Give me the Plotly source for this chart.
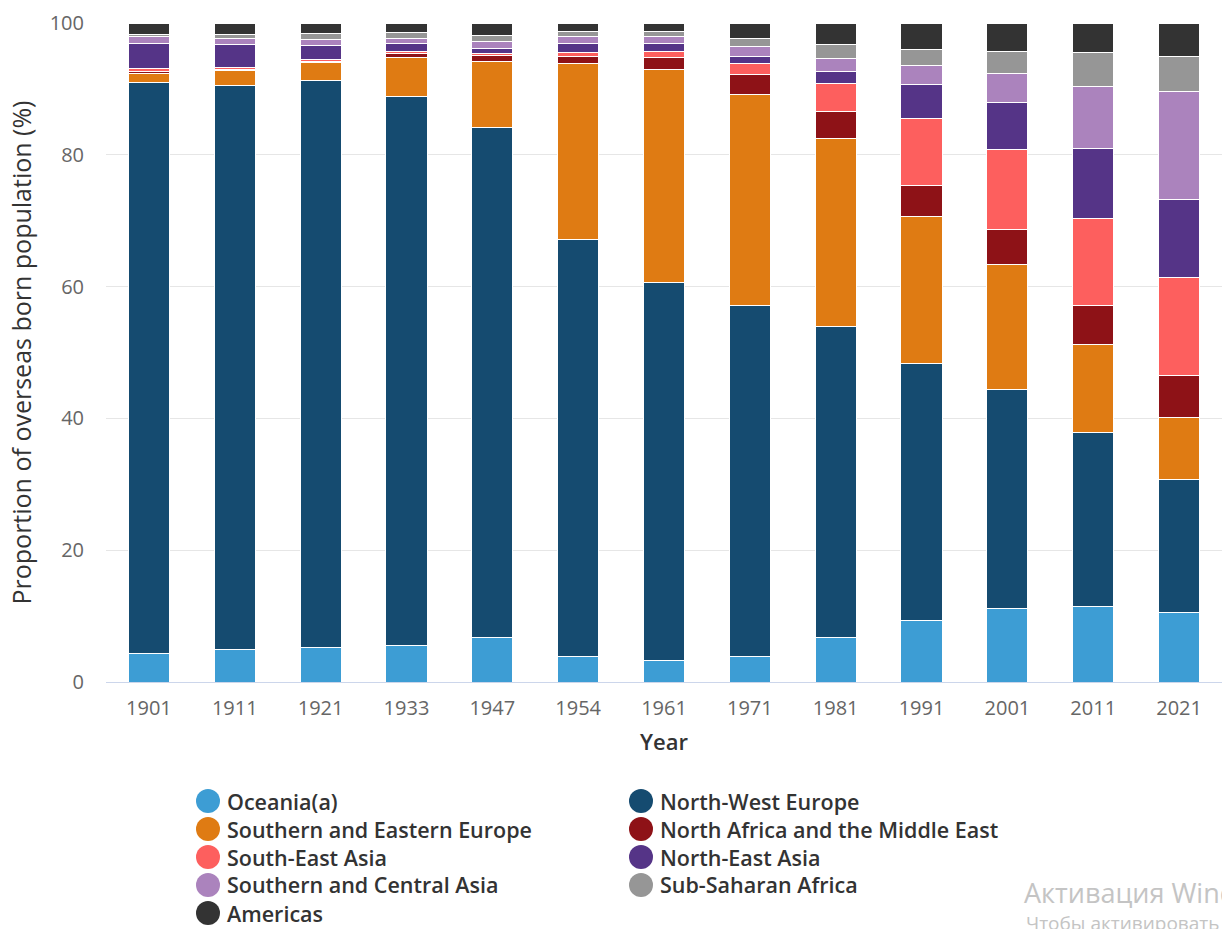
import plotly.graph_objects as go

years = ["1901", "1911", "1921", "1933", "1947", "1954", "1961", "1971", "1981", "1991", "2001", "2011", "2021"]

oceania = [4.4, 4.9, 5.2, 5.6, 6.8, 3.8, 3.2, 3.8, 6.8, 9.3, 11.2, 11.4, 10.5]
nw_europe = [86.6, 85.6, 86.1, 83.3, 77.4, 63.3, 57.4, 53.3, 47.1, 39.0, 33.2, 26.5, 20.2]
se_europe = [1.4, 2.3, 2.7, 5.9, 9.9, 26.8, 32.4, 32.1, 28.5, 22.4, 19.0, 13.3, 9.4]
na_me = [0.2, 0.2, 0.2, 0.5, 0.9, 1.0, 1.8, 3.0, 4.2, 4.7, 5.3, 5.9, 6.4]
se_asia = [0.5, 0.3, 0.3, 0.4, 0.3, 0.7, 0.9, 1.6, 4.2, 10.1, 12.1, 13.2, 14.9]
ne_asia = [3.8, 3.4, 2.1, 1.2, 0.9, 1.3, 1.2, 1.1, 1.8, 5.1, 7.1, 10.6, 11.8]
sc_asia = [1.0, 1.0, 0.9, 0.8, 1.0, 1.0, 1.0, 1.5, 2.0, 2.9, 4.5, 9.4, 16.4]
ss_africa = [0.4, 0.6, 0.9, 0.8, 0.9, 0.8, 0.8, 1.2, 2.1, 2.5, 3.3, 5.2, 5.3]
americas = [1.7, 1.7, 1.6, 1.5, 1.9, 1.3, 1.3, 2.4, 3.3, 4.0, 4.3, 4.5, 5.1]

series_names = ["Oceania(a)", "North-West Europe", "Southern and Eastern Europe",
                "North Africa and the Middle East", "South-East Asia", "North-East Asia",
                "Southern and Central Asia", "Sub-Saharan Africa", "Americas"]
series_values = [oceania, nw_europe, se_europe, na_me, se_asia, ne_asia, sc_asia, ss_africa, americas]
colors = ["#3d9dd4", "#154b70", "#df7b13", "#8e1217", "#fd5f5e", "#553487", "#ab83bd", "#969696", "#333333"]

W, H = 1222, 929
ML, MR, MT, MB = 106, 0, 23, 247
PW, PH = W - ML - MR, H - MT - MB


def px_x(px):
    return (px - ML) / PW


def px_y(py):
    return (H - MB - py) / PH


fig = go.Figure()
for name, vals, col in zip(series_names, series_values, colors):
    fig.add_trace(go.Bar(
        x=years, y=vals, name=name,
        marker=dict(color=col, line=dict(color="white", width=1)),
        showlegend=False,
    ))

# Legend drawn as circles + labels in two columns (row-major order)
shapes = []
annotations = []
col_circle_x = [208, 641]
col_text_x = [226, 659]
row_y = [801, 829, 857, 885, 913]
for i, (name, col) in enumerate(zip(series_names, colors)):
    r, c = divmod(i, 2)
    shapes.append(dict(
        type="circle", xref="paper", yref="paper",
        xsizemode="pixel", ysizemode="pixel",
        xanchor=px_x(col_circle_x[c]), yanchor=px_y(row_y[r]),
        x0=-12, x1=12, y0=-12, y1=12,
        fillcolor=col, line=dict(width=0),
    ))
    annotations.append(dict(
        text=name, xref="paper", yref="paper",
        x=px_x(col_text_x[c]), y=px_y(row_y[r]), xanchor="left", yanchor="middle",
        showarrow=False, borderpad=0,
        font=dict(family="Open Sans", size=21.5, color="#333333", weight=600),
    ))

annotations += [
    dict(text="Активация Windows", xref="paper", yref="paper",
         x=px_x(1023), y=px_y(892), xanchor="left", yanchor="middle", showarrow=False, borderpad=0,
         font=dict(family="Open Sans", size=27, color="#c4c4c4")),
    dict(text="Чтобы активировать Windows, перейдите в раздел \"Параметры\".", xref="paper", yref="paper",
         x=px_x(1025), y=px_y(923), xanchor="left", yanchor="middle", showarrow=False, borderpad=0,
         font=dict(family="Open Sans", size=19, color="#c4c4c4")),
]

fig.update_layout(
    width=W, height=H,
    barmode="stack", bargap=0.52,
    plot_bgcolor="white", paper_bgcolor="white",
    margin=dict(l=ML, r=MR, t=MT, b=MB, autoexpand=False),
    font=dict(family="Open Sans", color="#333333"),
    showlegend=False,
    xaxis=dict(
        type="category", showgrid=False, showline=True, linecolor="#ccd6eb", linewidth=1,
        tickfont=dict(size=20, color="#666666"), ticks="", ticklabelstandoff=8,
        title=dict(text="Year", font=dict(size=22, color="#333333", weight=600), standoff=14),
    ),
    yaxis=dict(
        range=[0, 100], tickvals=[0, 20, 40, 60, 80, 100], showgrid=True, gridcolor="#e6e6e6",
        zeroline=False, showline=False,
        tickfont=dict(size=20, color="#666666"), ticks="", ticklabelstandoff=21,
        title=dict(text="Proportion of overseas born population (%)",
                   font=dict(size=25, color="#333333"), standoff=10),
    ),
    shapes=shapes,
    annotations=annotations,
)

fig.write_html("out.html", config={"displayModeBar": False},
               post_script="document.body.style.margin='0';document.body.style.overflow='hidden';")
